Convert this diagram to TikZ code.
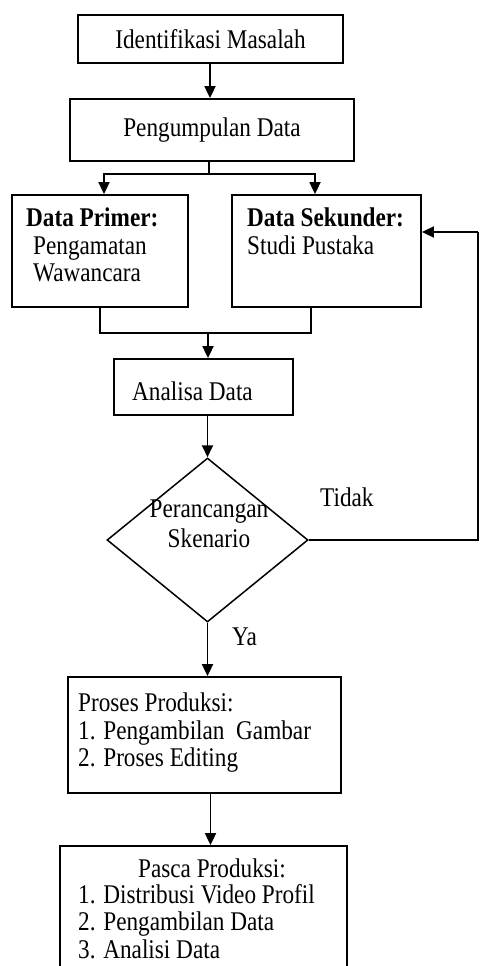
\documentclass[tikz,border=0pt]{standalone}
\usepackage{fontspec}
\setmainfont[FakeStretch=0.86]{Liberation Serif}
\usetikzlibrary{shapes.geometric,arrows.meta}
\begin{document}
\begin{tikzpicture}[x=1pt,y=1pt,
  every node/.style={font=\fontsize{27}{27.5}\selectfont},
  box/.style={draw, line width=1.8pt, inner sep=0pt},
  txt/.style={inner sep=0pt, align=left},
  arr/.style={line width=1.8pt, -{Triangle[width=11pt,length=12pt]}},
  ln/.style={line width=1.8pt}]
\useasboundingbox (0,0) rectangle (480,-966);
% boxes
\node[box, minimum width=265pt, minimum height=48pt] (idm) at (210.5,-39) {Identifikasi Masalah};
\node[box, minimum width=284pt, minimum height=62pt] (pd) at (212,-130) {Pengumpulan Data};
\node[box, minimum width=176pt, minimum height=112pt] (prim) at (100,-251) {};
\node[box, minimum width=189pt, minimum height=112pt] (sek) at (326.5,-251) {};
\node[box, minimum width=179pt, minimum height=56pt] (ana) at (203.5,-387) {};
\node[box, line width=1.5pt, diamond, aspect=1.225, minimum width=201pt, minimum height=164pt] (dia) at (207.5,-540) {};
\node[box, minimum width=273pt, minimum height=116pt] (pp) at (204.5,-735) {};
\node[box, minimum width=287pt, minimum height=140pt] (pasca) at (203.5,-916) {};
% texts
\node[txt, anchor=north west] (tprim) at (26,-208) {\textbf{Data Primer:}\\\hspace*{7pt}Pengamatan\\\hspace*{7pt}Wawancara};
\node[txt, anchor=north west] (tsek) at (247,-208) {\textbf{Data Sekunder:}\\Studi Pustaka};
\node[txt, anchor=base west] (tana) at (132,-400) {Analisa Data};
\node[txt, align=center, anchor=north, font=\fontsize{27}{30}\selectfont] (tdia) at (209,-500) {Perancangan\\Skenario};
\node[txt, anchor=base west] (ttidak) at (320,-506) {Tidak};
\node[txt, anchor=base west] (tya) at (232,-645) {Ya};
\node[txt, anchor=north west] (tpp) at (78,-693) {Proses Produksi:\\1. Pengambilan\ \ Gambar\\2. Proses Editing};
\node[txt, anchor=base] (tpasca) at (212,-877) {Pasca Produksi:};
\node[txt, anchor=north west, font=\fontsize{27}{27.5}\selectfont] (tlist) at (78,-884) {1. Distribusi Video Profil\\2. Pengambilan Data\\3. Analisi Data};
% connectors
\draw[arr] ([xshift=-0.5pt]idm.south) -- ([xshift=-0.5pt]idm.south |- pd.north);
\coordinate (split) at (209,-174);
\draw[ln] ([xshift=-3pt]pd.south) -- (split);
\draw[arr] (split) -| ([xshift=4pt]prim.north);
\draw[arr] (split) -| ([xshift=-11.5pt]sek.north);
\coordinate (merge) at (208,-333);
\draw[ln] (prim.south) |- (merge);
\draw[ln] ([xshift=-15.5pt]sek.south) |- (merge);
\draw[arr] (merge) -- ([xshift=4.5pt]ana.north);
\draw[arr] (dia.north |- ana.south) -- (dia.north);
\draw[arr] (dia.south) -- (dia.south |- pp.north);
\draw[arr] ([xshift=6pt]pp.south) -- ([xshift=6pt]pp.south |- pasca.north);
\coordinate (fbcorner) at (478,-540);
\coordinate (fbtop) at (478,-232);
\draw[ln] (dia.east) -- (fbcorner) -- (fbtop);
\draw[arr] (fbtop) -- ([yshift=19pt]sek.east);
\end{tikzpicture}
\end{document}
